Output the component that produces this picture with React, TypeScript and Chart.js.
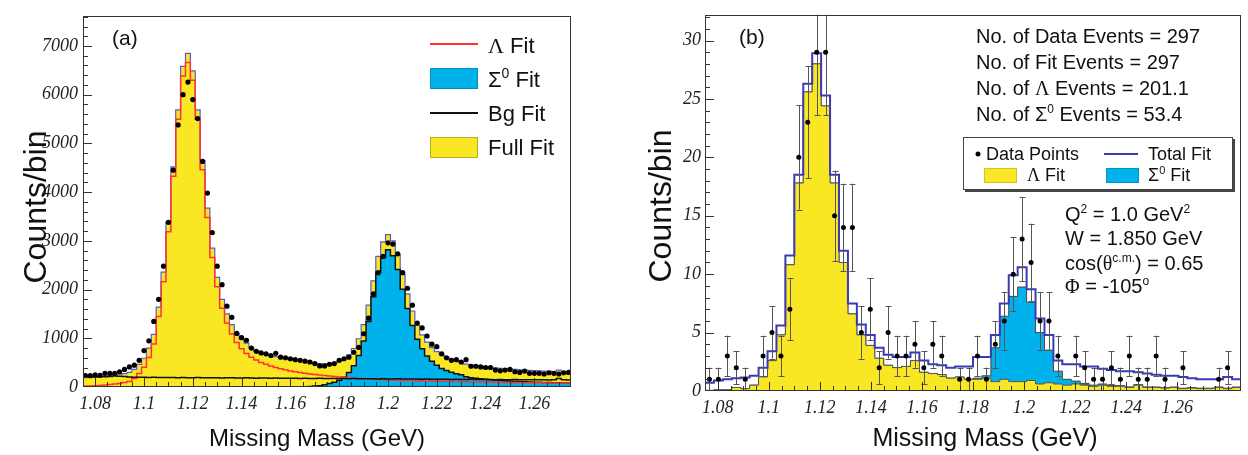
import React, { useEffect, useRef } from 'react';
import { Chart, registerables } from 'chart.js';

Chart.register(...registerables);

const SANS = '"Liberation Sans", Arial, Helvetica, sans-serif';
const SERIF = '"Liberation Serif", "Times New Roman", serif';
const YELLOW = '#fae724';
const CYAN = '#00b2ec';

// ---------- shared x axis ----------
const X_MIN = 1.075;
const X_TICKS = [1.08, 1.1, 1.12, 1.14, 1.16, 1.18, 1.2, 1.22, 1.24, 1.26];
const X_TICK_LABELS = ['1.08', '1.1', '1.12', '1.14', '1.16', '1.18', '1.2', '1.22', '1.24', '1.26'];

// ---------- panel (a) : 2 MeV bins ----------
const A_X_MAX = 1.275;
const A_BIN_WIDTH = 0.002;
const A_Y_MAX = 7620;
const A_Y_TICKS = [0, 1000, 2000, 3000, 4000, 5000, 6000, 7000];

const A_DATA = [
  233, 233, 250, 240, 280, 280, 280, 313, 360, 413,
  447, 547, 747, 947, 1347, 1800, 2480, 3380, 4450, 5380,
  6000, 6260, 5900, 5510, 4630, 3980, 3170, 2480, 2100, 1660,
  1430, 1100, 1013, 960, 800, 733, 700, 680, 647, 693,
  613, 600, 580, 560, 547, 530, 513, 480, 433, 433,
  467, 480, 547, 580, 613, 713, 813, 1093, 1413, 1913,
  2346, 2680, 2960, 2933, 2733, 2346, 2027, 1680, 1313, 1213,
  1047, 880, 827, 680, 600, 547, 560, 513, 560, 426,
  426, 413, 400, 400, 347, 333, 347, 360, 313, 300,
  327, 280, 280, 280, 267, 293, 280, 267, 293, 300,
];

const A_FULL = [
  215, 215, 218, 222, 226, 235, 250, 262, 275, 300,
  360, 466, 590, 800, 1080, 1640, 2360, 3380, 4520, 5690,
  6580, 6850, 6490, 5690, 4650, 3670, 2850, 2250, 1800, 1500,
  1280, 1100, 980, 900, 800, 740, 700, 670, 645, 625,
  605, 588, 572, 557, 542, 525, 508, 492, 480, 475,
  480, 495, 525, 575, 660, 790, 990, 1280, 1680, 2180,
  2680, 2980, 3130, 3000, 2720, 2310, 1910, 1560, 1270, 1070,
  920, 810, 725, 660, 610, 570, 540, 515, 470, 452,
  438, 425, 413, 402, 392, 383, 375, 367, 360, 353,
  347, 341, 336, 331, 326, 322, 318, 345, 314, 311,
];

const A_LAMBDA = [
  18, 22, 27, 33, 40, 49, 60, 74, 92, 115,
  175, 275, 405, 604, 882, 1445, 2163, 3187, 4325, 5498,
  6386, 6660, 6298, 5495, 4460, 3482, 2658, 2060, 1615, 1312,
  1090, 914, 786, 690, 612, 553, 505, 465, 431, 401,
  375, 352, 331, 313, 297, 282, 268, 256, 245, 235,
  225, 215, 205, 196, 188, 181, 175, 169, 164, 159,
  155, 151, 147, 143, 140, 137, 134, 131, 128, 126,
  123, 121, 119, 117, 115, 113, 111, 109, 107, 105,
  103, 102, 100, 99, 97, 96, 94, 93, 92, 90,
  89, 88, 87, 86, 85, 84, 83, 82, 81, 80,
];

const A_SIGMA = [
  0, 0, 0, 0, 0, 0, 0, 0, 0, 0,
  0, 0, 0, 0, 0, 0, 0, 0, 0, 0,
  0, 0, 0, 0, 0, 0, 0, 0, 0, 0,
  0, 0, 0, 0, 0, 0, 0, 0, 0, 0,
  0, 0, 0, 0, 0, 5, 10, 18, 28, 45,
  70, 100, 140, 200, 300, 436, 645, 943, 1345, 1853,
  2359, 2660, 2817, 2693, 2413, 2009, 1614, 1264, 980, 784,
  634, 529, 448, 382, 337, 301, 270, 250, 208, 190,
  181, 170, 157, 150, 144, 133, 130, 124, 116, 114,
  107, 105, 99, 98, 92, 92, 87, 88, 86, 86,
];

const A_BG = [
  205, 208, 206, 210, 212, 215, 225, 222, 215, 205,
  200, 198, 200, 196, 198, 195, 197, 193, 195, 192,
  194, 190, 192, 195, 190, 188, 192, 190, 185, 188,
  190, 186, 184, 188, 185, 182, 186, 183, 180, 184,
  181, 178, 182, 180, 176, 180, 177, 175, 178, 174,
  176, 172, 175, 172, 170, 173, 170, 168, 171, 168,
  166, 169, 166, 164, 167, 164, 162, 165, 162, 160,
  163, 160, 158, 161, 158, 156, 159, 156, 155, 157,
  154, 153, 156, 153, 151, 154, 151, 150, 152, 149,
  151, 148, 150, 147, 149, 146, 148, 175, 147, 145,
];

// ---------- panel (b) : 60 bins of 3.5 MeV ----------
const B_X_MAX = 1.285;
const B_BIN_WIDTH = 0.0035;
const B_Y_MAX = 32.2;
const B_Y_TICKS = [0, 5, 10, 15, 20, 25, 30];

const B_DATA = [
  1, 1, 3, 2, 1, 0, 3, 5, 3, 7,
  20, 23, 29, 29, 15, 14, 14, 5, 7, 2,
  5, 3, 3, 4, 2, 4, 3, 0, 1, 1,
  3, 1, 4, 6, 10, 13, 11, 6, 6, 3,
  0, 3, 2, 1, 1, 2, 1, 3, 1, 1,
  3, 1, 0, 2, 0, 0, 0, 1, 2, 0,
];

const B_TOTAL = [
  0.7, 0.9, 1.0, 1.1, 1.15, 1.3, 2.0, 3.4, 5.6, 11.6,
  18.5, 26.3, 28.9, 25.3, 18.5, 12.0, 7.5, 5.7, 4.8, 3.7,
  3.1, 2.9, 2.9, 3.3, 2.6, 2.3, 2.2, 2.0, 2.1, 2.1,
  2.9, 2.9, 4.8, 7.5, 9.9, 10.6, 8.7, 6.2, 4.8, 2.6,
  2.3, 2.3, 2.1, 2.1, 1.9, 1.8, 1.7, 1.7, 1.6, 1.5,
  1.4, 1.3, 1.3, 1.2, 1.1, 1.0, 1.0, 1.0, 1.2, 1.0,
];

const B_LAMBDA = [
  0.05, 0.1, 0.1, 0.3, 0.2, 0.5, 1.2, 2.6, 4.8, 10.8,
  17.8, 25.6, 28.0, 24.4, 17.8, 11.0, 6.6, 4.8, 3.9, 2.8,
  2.2, 2.0, 2.1, 2.6, 1.6, 1.5, 1.4, 1.1, 1.2, 1.0,
  1.0, 1.1, 0.8, 1.0, 0.8, 0.8, 0.9, 0.6, 0.7, 0.6,
  0.5, 0.6, 0.5, 0.4, 0.5, 0.4, 0.4, 0.3, 0.5, 0.3,
  0.3, 0.25, 0.3, 0.2, 0.25, 0.2, 0.2, 0.3, 0.2, 0.3,
];

const B_SIGMA = [
  0, 0, 0, 0, 0, 0, 0, 0, 0, 0,
  0, 0, 0, 0, 0, 0, 0, 0, 0, 0,
  0, 0, 0, 0, 0, 0, 0, 0, 0, 0,
  0.1, 0.2, 2.9, 5.4, 7.3, 8.1, 6.7, 4.4, 2.8, 1.1,
  0.5, 0.25, 0.15, 0.1, 0.1, 0.08, 0.06, 0.05, 0.05, 0.05,
  0.04, 0.04, 0.04, 0.04, 0.04, 0.04, 0.04, 0.04, 0.04, 0.04,
];

// ---------- helpers ----------
type Pt = { x: number; y: number };
function stepPoints(values: number[], start: number, width: number): Pt[] {
  const pts = values.map((v, i) => ({ x: start + i * width, y: v }));
  pts.push({ x: start + values.length * width, y: values[values.length - 1] });
  return pts;
}
function centerPoints(values: number[], start: number, width: number): Pt[] {
  const pts: Pt[] = [];
  values.forEach((v, i) => {
    if (v > 0) pts.push({ x: start + (i + 0.5) * width, y: v });
  });
  return pts;
}

type Part = { t: string; sup?: boolean; serif?: boolean };
function partFont(p: Part, size: number) {
  const fs = p.sup ? Math.round(size * 0.62) : size;
  return `${fs}px ${p.serif ? SERIF : SANS}`;
}
function drawRich(ctx: CanvasRenderingContext2D, x: number, yc: number, parts: Part[], size: number, align: 'left' | 'center' = 'left', color = '#111') {
  ctx.save();
  ctx.fillStyle = color;
  ctx.textBaseline = 'alphabetic';
  ctx.textAlign = 'left';
  let total = 0;
  for (const p of parts) {
    ctx.font = partFont(p, size);
    total += ctx.measureText(p.t).width;
  }
  let cx = align === 'center' ? x - total / 2 : x;
  const base = yc + size * 0.36;
  for (const p of parts) {
    ctx.font = partFont(p, size);
    ctx.fillText(p.t, cx, p.sup ? base - size * 0.42 : base);
    cx += ctx.measureText(p.t).width;
  }
  ctx.restore();
}
function drawRotated(ctx: CanvasRenderingContext2D, cx: number, cy: number, text: string, size: number) {
  ctx.save();
  ctx.translate(cx, cy);
  ctx.rotate(-Math.PI / 2);
  drawRich(ctx, 0, 0, [{ t: text }], size, 'center');
  ctx.restore();
}
function hline(ctx: CanvasRenderingContext2D, x1: number, x2: number, y: number, color: string, w: number) {
  ctx.save();
  ctx.strokeStyle = color;
  ctx.lineWidth = w;
  ctx.beginPath();
  ctx.moveTo(x1, y);
  ctx.lineTo(x2, y);
  ctx.stroke();
  ctx.restore();
}
function box(ctx: CanvasRenderingContext2D, x: number, y: number, w: number, h: number, fill: string, stroke: string) {
  ctx.save();
  ctx.fillStyle = fill;
  ctx.fillRect(x, y, w, h);
  ctx.strokeStyle = stroke;
  ctx.lineWidth = 1;
  ctx.strokeRect(x + 0.5, y + 0.5, w - 1, h - 1);
  ctx.restore();
}

function axisDecor(xMax: number, yMinorStep: number, yMax: number, yMajors: number[]) {
  return {
    id: 'axisDecor',
    afterDatasetsDraw(chart: any) {
      const { ctx, chartArea: ca, scales } = chart;
      const sx = scales.x;
      const sy = scales.y;
      ctx.save();
      ctx.strokeStyle = '#333';
      ctx.lineWidth = 1;
      ctx.beginPath();
      for (let k = 1; X_MIN + k * 0.005 < xMax - 1e-9; k++) {
        const v = X_MIN + k * 0.005;
        const major = X_TICKS.some((t) => Math.abs(t - v) < 1e-6);
        const px = Math.round(sx.getPixelForValue(v)) + 0.5;
        ctx.moveTo(px, ca.bottom);
        ctx.lineTo(px, ca.bottom - (major ? 9 : 5));
      }
      for (let v = yMinorStep; v <= yMax; v += yMinorStep) {
        const major = yMajors.includes(v);
        const py = Math.round(sy.getPixelForValue(v)) + 0.5;
        ctx.moveTo(ca.left, py);
        ctx.lineTo(ca.left + (major ? 9 : 5), py);
      }
      ctx.stroke();
      ctx.strokeRect(Math.round(ca.left) + 0.5, Math.round(ca.top) + 0.5, Math.round(ca.right - ca.left) - 1, Math.round(ca.bottom - ca.top) - 1);
      ctx.restore();
    },
  };
}

function xScale(xMax: number, height: number, pad: number) {
  return {
    type: 'linear',
    min: X_MIN,
    max: xMax,
    afterBuildTicks: (s: any) => {
      s.ticks = X_TICKS.map((v) => ({ value: v }));
    },
    afterFit: (s: any) => {
      s.height = height;
    },
    ticks: {
      callback: (_v: any, i: number) => X_TICK_LABELS[i],
      font: { family: SERIF, style: 'italic', size: 18 },
      color: '#222',
      padding: pad,
      autoSkip: false,
      maxRotation: 0,
    },
    grid: { display: false, drawTicks: false },
    border: { display: false },
  };
}
function yScale(max: number, ticks: number[], width: number, pad: number) {
  return {
    type: 'linear',
    min: 0,
    max,
    afterBuildTicks: (s: any) => {
      s.ticks = ticks.map((v) => ({ value: v }));
    },
    afterFit: (s: any) => {
      s.width = width;
    },
    ticks: {
      callback: (v: any) => String(v),
      font: { family: SERIF, style: 'italic', size: 18 },
      color: '#222',
      padding: pad,
      autoSkip: false,
    },
    grid: { display: false, drawTicks: false },
    border: { display: false },
  };
}

const line = (data: Pt[], color: string, width: number, order: number, fillColor?: string) => ({
  data,
  stepped: true,
  borderColor: color,
  borderWidth: width,
  backgroundColor: fillColor || 'transparent',
  fill: fillColor ? 'origin' : false,
  pointRadius: 0,
  order,
});

function configA(): any {
  const textA = {
    id: 'textA',
    afterDraw(chart: any) {
      const ctx = chart.ctx as CanvasRenderingContext2D;
      drawRich(ctx, 112, 37, [{ t: '(a)' }], 21);
      hline(ctx, 430, 478, 44, '#ff3333', 2);
      drawRich(ctx, 488, 45, [{ t: 'Λ', serif: true }, { t: ' Fit' }], 22);
      box(ctx, 430, 68, 48, 21, CYAN, 'rgba(0,0,0,0.2)');
      drawRich(ctx, 488, 79, [{ t: 'Σ' }, { t: '0', sup: true }, { t: ' Fit' }], 22);
      hline(ctx, 430, 478, 113, '#111', 2);
      drawRich(ctx, 488, 113, [{ t: 'Bg Fit' }], 22);
      box(ctx, 430, 137, 48, 21, YELLOW, 'rgba(0,0,0,0.25)');
      drawRich(ctx, 488, 147, [{ t: 'Full Fit' }], 22);
      drawRich(ctx, 317, 437, [{ t: 'Missing Mass (GeV)' }], 24, 'center');
      drawRotated(ctx, 34, 207, 'Counts/bin', 32);
    },
  };
  return {
    type: 'line',
    data: {
      datasets: [
        { label: 'Data', data: centerPoints(A_DATA, X_MIN, A_BIN_WIDTH), showLine: false, pointRadius: 2.6, pointBackgroundColor: '#000', pointBorderWidth: 0, order: 0 },
        { label: 'Bg Fit', ...line(stepPoints(A_BG, X_MIN, A_BIN_WIDTH), '#111', 1.5, 1) },
        { label: 'Λ Fit', ...line(stepPoints(A_LAMBDA, X_MIN, A_BIN_WIDTH), '#ff3333', 1.5, 2) },
        { label: 'Σ0 Fit', ...line(stepPoints(A_SIGMA, X_MIN, A_BIN_WIDTH), '#111', 1.5, 3, CYAN) },
        { label: 'Full Fit', ...line(stepPoints(A_FULL, X_MIN, A_BIN_WIDTH), '#5b5bcf', 1.2, 4, YELLOW) },
      ],
    },
    options: {
      responsive: false,
      animation: false,
      devicePixelRatio: 1,
      events: [],
      layout: { padding: { left: 0, right: 49, top: 7, bottom: 0 }, autoPadding: false },
      plugins: { legend: { display: false }, tooltip: { enabled: false } },
      scales: {
        x: xScale(A_X_MAX, 68, 6),
        y: yScale(A_Y_MAX, A_Y_TICKS, 83, 5),
      },
    },
    plugins: [axisDecor(A_X_MAX, 200, A_Y_MAX, A_Y_TICKS), textA],
  };
}

function configB(): any {
  const cumulative = B_SIGMA.map((v, i) => v + B_LAMBDA[i]);
  const errorBars = {
    id: 'errorBars',
    afterDatasetDraw(chart: any, args: any) {
      if (args.index !== 1) return;
      const { ctx, chartArea: ca, scales } = chart;
      ctx.save();
      ctx.beginPath();
      ctx.rect(ca.left, ca.top, ca.right - ca.left, ca.bottom - ca.top);
      ctx.clip();
      ctx.strokeStyle = '#555';
      ctx.lineWidth = 1;
      ctx.beginPath();
      B_DATA.forEach((n, i) => {
        if (n <= 0) return;
        const e = Math.sqrt(n);
        const px = Math.round(scales.x.getPixelForValue(X_MIN + (i + 0.5) * B_BIN_WIDTH)) + 0.5;
        const y1 = scales.y.getPixelForValue(n - e);
        const y2 = scales.y.getPixelForValue(n + e);
        ctx.moveTo(px, y1);
        ctx.lineTo(px, y2);
        ctx.moveTo(px - 3, Math.round(y1) + 0.5);
        ctx.lineTo(px + 3, Math.round(y1) + 0.5);
        ctx.moveTo(px - 3, Math.round(y2) + 0.5);
        ctx.lineTo(px + 3, Math.round(y2) + 0.5);
      });
      ctx.stroke();
      ctx.restore();
    },
  };
  const textB = {
    id: 'textB',
    afterDraw(chart: any) {
      const ctx = chart.ctx as CanvasRenderingContext2D;
      drawRich(ctx, 119, 36, [{ t: '(b)' }], 21);
      drawRich(ctx, 356, 36, [{ t: 'No. of Data Events = 297' }], 20);
      drawRich(ctx, 356, 62, [{ t: 'No. of Fit Events = 297' }], 20);
      drawRich(ctx, 356, 88, [{ t: 'No. of ' }, { t: 'Λ', serif: true }, { t: ' Events = 201.1' }], 20);
      drawRich(ctx, 356, 114, [{ t: 'No. of Σ' }, { t: '0', sup: true }, { t: ' Events = 53.4' }], 20);
      // legend box
      ctx.save();
      ctx.fillStyle = '#fff';
      ctx.fillRect(343, 137, 270, 53);
      ctx.strokeStyle = '#444';
      ctx.lineWidth = 1;
      ctx.strokeRect(343.5, 137.5, 269, 52);
      ctx.fillStyle = '#444';
      ctx.fillRect(613, 139, 2, 53);
      ctx.fillRect(345, 190, 270, 2);
      ctx.fillStyle = '#000';
      ctx.beginPath();
      ctx.arc(358, 154, 2.5, 0, Math.PI * 2);
      ctx.fill();
      ctx.restore();
      drawRich(ctx, 366, 154, [{ t: 'Data Points' }], 18);
      hline(ctx, 484, 518, 154, '#3a3ab5', 2);
      drawRich(ctx, 528, 154, [{ t: 'Total Fit' }], 18);
      box(ctx, 364, 168, 33, 15, YELLOW, 'rgba(0,0,0,0.15)');
      drawRich(ctx, 407, 175, [{ t: 'Λ', serif: true }, { t: ' Fit' }], 18);
      box(ctx, 486, 168, 33, 15, CYAN, 'rgba(0,0,0,0.15)');
      drawRich(ctx, 528, 175, [{ t: 'Σ' }, { t: '0', sup: true }, { t: ' Fit' }], 18);
      // kinematics
      drawRich(ctx, 445, 214, [{ t: 'Q' }, { t: '2', sup: true }, { t: ' = 1.0 GeV' }, { t: '2', sup: true }], 20);
      drawRich(ctx, 445, 238, [{ t: 'W = 1.850 GeV' }], 20);
      drawRich(ctx, 445, 263, [{ t: 'cos(' }, { t: 'θ', serif: true }, { t: 'c.m.', sup: true }, { t: ') = 0.65' }], 20);
      drawRich(ctx, 445, 286, [{ t: 'Φ', serif: true }, { t: ' = -105' }, { t: 'o', sup: true }], 20);
      drawRich(ctx, 365, 437, [{ t: 'Missing Mass (GeV)' }], 25, 'center');
      drawRotated(ctx, 39, 206, 'Counts/bin', 32);
    },
  };
  return {
    type: 'line',
    data: {
      datasets: [
        { label: 'Data Points', data: centerPoints(B_DATA, X_MIN, B_BIN_WIDTH), showLine: false, pointRadius: 2.5, pointBackgroundColor: '#000', pointBorderWidth: 0, order: 0 },
        { label: 'Total Fit', ...line(stepPoints(B_TOTAL, X_MIN, B_BIN_WIDTH), '#3a3ab5', 2, 1) },
        { label: 'Λ Fit', ...line(stepPoints(B_LAMBDA, X_MIN, B_BIN_WIDTH), '#555', 1, 2, YELLOW) },
        { label: 'Σ0 Fit', ...line(stepPoints(cumulative, X_MIN, B_BIN_WIDTH), '#444', 1, 3, CYAN) },
      ],
    },
    options: {
      responsive: false,
      animation: false,
      devicePixelRatio: 1,
      events: [],
      layout: { padding: { left: 0, right: 7, top: 4, bottom: 0 }, autoPadding: false },
      plugins: { legend: { display: false }, tooltip: { enabled: false } },
      scales: {
        x: xScale(B_X_MAX, 64, 6),
        y: yScale(B_Y_MAX, B_Y_TICKS, 85, 4),
      },
    },
    plugins: [errorBars, axisDecor(B_X_MAX, 1, B_Y_MAX, B_Y_TICKS), textB],
  };
}

export default function App() {
  const refA = useRef<HTMLCanvasElement>(null);
  const refB = useRef<HTMLCanvasElement>(null);
  useEffect(() => {
    const a = new Chart(refA.current as HTMLCanvasElement, configA());
    const b = new Chart(refB.current as HTMLCanvasElement, configB());
    return () => {
      a.destroy();
      b.destroy();
    };
  }, []);
  return (
    <div style={{ position: 'absolute', left: 0, top: 0, width: 1248, height: 455, background: '#fff', overflow: 'hidden' }}>
      <canvas ref={refA} width={620} height={455} style={{ position: 'absolute', left: 0, top: 0 }} />
      <canvas ref={refB} width={628} height={455} style={{ position: 'absolute', left: 620, top: 0 }} />
    </div>
  );
}
